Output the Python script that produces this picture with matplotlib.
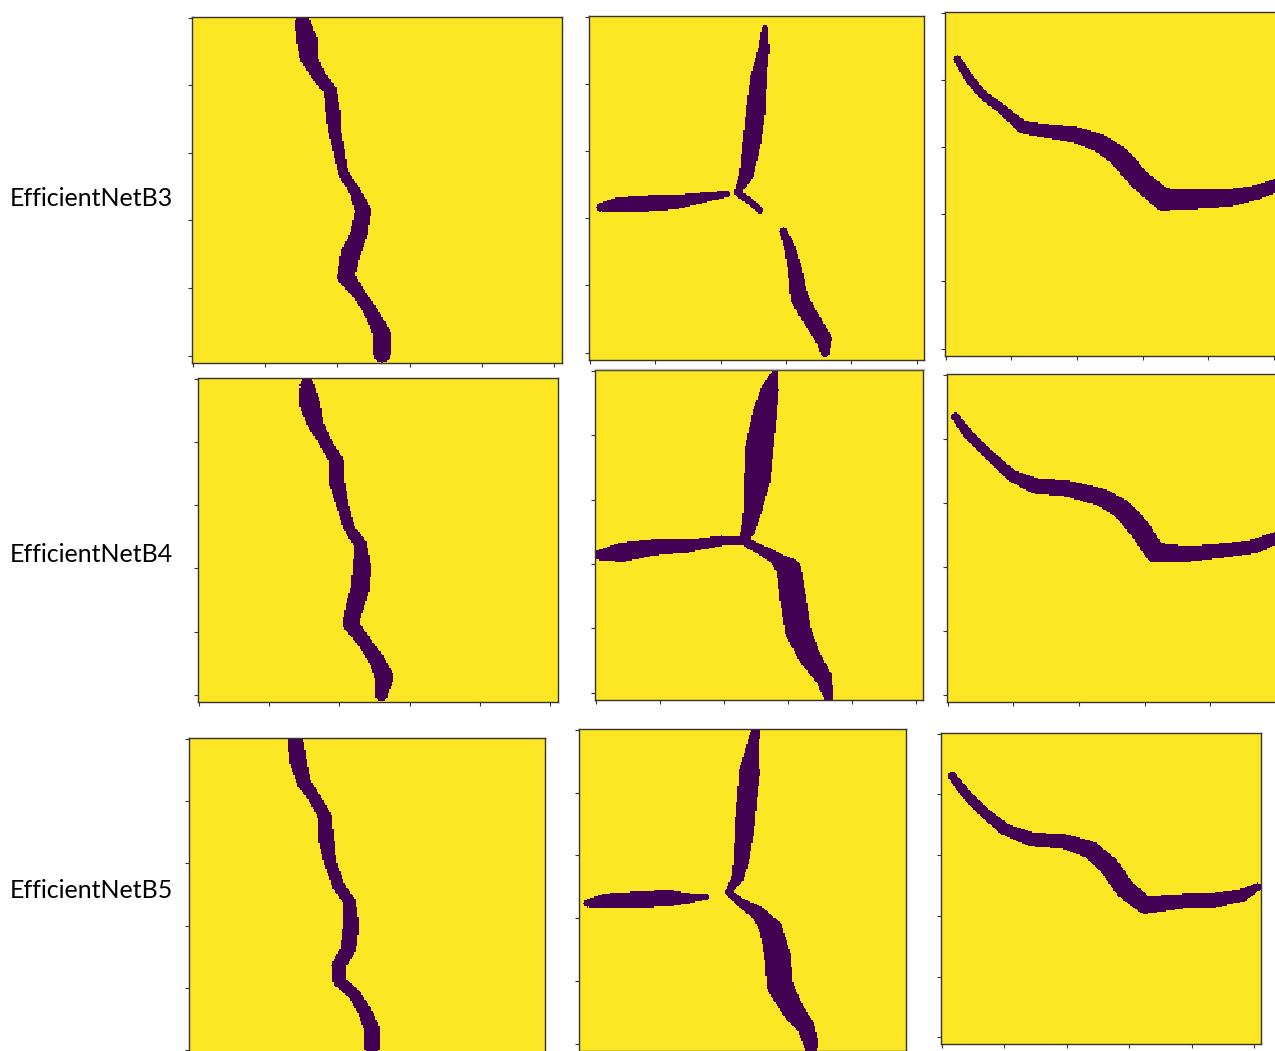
import numpy as np
import matplotlib
matplotlib.use("Agg")
import matplotlib.pyplot as plt
from matplotlib.lines import Line2D

# crack centre lines in mask pixels (256 x 256): x, y, width
models = ["EfficientNetB3", "EfficientNetB4", "EfficientNetB5"]

# ---- crack 1 (vertical) ----
b3_c1_x = [76, 79, 80, 86, 95, 97, 98, 101, 104, 112, 118, 115, 109, 106, 115, 124, 131, 131]
b3_c1_y = [4, 17, 29, 41, 54, 69, 83, 98, 115, 128, 143, 160, 175, 192, 204, 219, 234, 249]
b3_c1_w = [11, 15, 12, 10, 9, 10, 9, 8, 7, 8, 11, 12, 13.5, 12.5, 9, 10, 12.5, 12]

b4_c1_x = [77, 79, 83, 91, 98, 98, 102, 107, 115, 116, 115, 110, 108, 117, 127, 132, 130]
b4_c1_y = [5, 20, 36, 52, 65, 81, 99, 118, 131, 147, 165, 184, 194, 207, 223, 236, 250]
b4_c1_w = [10, 15, 11.5, 9, 10, 11.5, 9, 8, 9, 12.5, 13.5, 12.5, 11.5, 10, 11.5, 13.5, 9]

b5_c1_x = [76, 78, 82, 90, 97, 98, 101, 107, 115, 116, 114, 107, 108, 119, 126, 131, 131]
b5_c1_y = [1, 19, 35, 48, 62, 80, 99, 118, 131, 150, 169, 182, 195, 206, 219, 233, 249]
b5_c1_w = [11.5, 12.5, 10, 9, 10, 11.5, 9, 9, 9, 11.5, 11.5, 10, 10, 9, 10, 11.5, 10]

# ---- crack 2 (three branches) ----
b3_c2_up_x = [134, 133, 129, 127, 124, 120, 113]
b3_c2_up_y = [9, 25, 45, 70, 94, 117, 131]
b3_c2_up_w = [5, 8.5, 12.5, 15, 14, 11, 5.5]
b3_c2_spur_x = [113, 123, 130]
b3_c2_spur_y = [131, 138, 144]
b3_c2_spur_w = [5.5, 5.5, 5]
b3_c2_left_x = [105, 91, 66, 45, 22, 8]
b3_c2_left_y = [132, 134, 138, 139, 140, 142]
b3_c2_left_w = [5, 7, 11, 12, 11, 6]
b3_c2_low_x = [148, 153, 157, 160, 170, 179, 180]
b3_c2_low_y = [160, 172, 189, 209, 226, 240, 250]
b3_c2_low_w = [6, 8.5, 11, 13.5, 13, 12.5, 7]

b4_c2_up_x = [140, 136, 132, 128, 126, 123, 119, 115]
b4_c2_up_y = [1, 15, 33, 59, 85, 106, 124, 132]
b4_c2_up_w = [5, 14, 19, 22, 20.5, 15, 11, 7.5]
b4_c2_left_x = [115, 98, 72, 46, 20, 3]
b4_c2_left_y = [132, 132, 136, 137, 141, 143]
b4_c2_left_w = [7, 8, 10, 12.5, 15, 8]
b4_c2_low_x = [115, 127, 140, 151, 154, 158, 167, 178, 182]
b4_c2_low_y = [132, 138, 145, 155, 176, 202, 222, 238, 253]
b4_c2_low_w = [7, 7.5, 10, 19, 20.5, 20.5, 17, 13.5, 7.5]

b5_c2_up_x = [138, 135, 133, 131, 129, 127, 124, 118]
b5_c2_up_y = [1, 15, 34, 55, 79, 101, 117, 127]
b5_c2_up_w = [7.5, 10, 16.5, 15.5, 15.5, 12.5, 10, 5.5]
b5_c2_left_x = [6, 20, 47, 70, 86, 99]
b5_c2_left_y = [138, 136, 135, 134, 134, 133]
b5_c2_left_w = [6, 11.5, 13, 13, 8, 4.5]
b5_c2_low_x = [116, 127, 140, 150, 155, 157, 167, 177, 181, 181]
b5_c2_low_y = [129, 138, 146, 159, 180, 204, 223, 236, 250, 256]
b5_c2_low_w = [5.5, 7.5, 11.5, 18, 20.5, 20.5, 17, 14, 11.5, 9]

# ---- crack 3 (wavy horizontal) ----
b3_c3_x = [9, 18, 28, 43, 58, 76, 99, 117, 132, 147, 165, 191, 216, 236, 252, 262]
b3_c3_y = [35, 49, 61, 72, 85, 88, 91, 97, 107, 124, 139, 139, 138, 134, 128, 124]
b3_c3_w = [6, 7, 7, 7.5, 9.5, 10.5, 12, 14, 15.5, 16, 16.5, 14, 13, 11, 10, 10]

b4_c3_x = [6, 16, 32, 49, 67, 92, 118, 133, 146, 158, 183, 214, 234, 249, 262]
b4_c3_y = [33, 47, 63, 79, 87, 89, 96, 105, 120, 139, 140, 137, 134, 128, 125]
b4_c3_w = [6.5, 7.8, 8, 9.5, 12, 12.5, 14, 15.5, 16.5, 15.5, 12.5, 11, 11, 10, 10]

b5_c3_x = [8.5, 19, 32, 51, 72, 99, 120, 134, 147, 163, 193, 219, 241, 253]
b5_c3_y = [35, 49, 63, 79, 87, 89, 96, 109, 128, 141, 138, 137, 133, 126]
b5_c3_w = [6.9, 8.2, 8.5, 10, 11.5, 12, 14.5, 16, 16, 14.5, 12, 12, 10.5, 6]

cracks = {
    (0, 0): [(b3_c1_x, b3_c1_y, b3_c1_w)],
    (1, 0): [(b4_c1_x, b4_c1_y, b4_c1_w)],
    (2, 0): [(b5_c1_x, b5_c1_y, b5_c1_w)],
    (0, 1): [(b3_c2_up_x, b3_c2_up_y, b3_c2_up_w), (b3_c2_spur_x, b3_c2_spur_y, b3_c2_spur_w),
             (b3_c2_left_x, b3_c2_left_y, b3_c2_left_w), (b3_c2_low_x, b3_c2_low_y, b3_c2_low_w)],
    (1, 1): [(b4_c2_up_x, b4_c2_up_y, b4_c2_up_w), (b4_c2_left_x, b4_c2_left_y, b4_c2_left_w),
             (b4_c2_low_x, b4_c2_low_y, b4_c2_low_w)],
    (2, 1): [(b5_c2_up_x, b5_c2_up_y, b5_c2_up_w), (b5_c2_left_x, b5_c2_left_y, b5_c2_left_w),
             (b5_c2_low_x, b5_c2_low_y, b5_c2_low_w)],
    (0, 2): [(b3_c3_x, b3_c3_y, b3_c3_w)],
    (1, 2): [(b4_c3_x, b4_c3_y, b4_c3_w)],
    (2, 2): [(b5_c3_x, b5_c3_y, b5_c3_w)],
}

# panel boxes in screen pixels: left, top, right, bottom
boxes = {
    (0, 0): (192, 17, 562, 363), (0, 1): (589, 16, 924, 360), (0, 2): (945, 12, 1281, 356),
    (1, 0): (198, 378, 558, 702), (1, 1): (595, 370, 923, 700), (1, 2): (947, 374, 1283, 702),
    (2, 0): (189, 738, 545, 1057), (2, 1): (579, 729, 906, 1051), (2, 2): (941, 733, 1261, 1044),
}
label_y = [199, 554, 890]

N = 256
yy, xx = np.mgrid[0:N, 0:N] + 0.0


def make_mask(paths):
    mask = np.ones((N, N))
    for px, py, pw in paths:
        for i in range(len(px) - 1):
            x0, y0, x1, y1 = px[i], py[i], px[i + 1], py[i + 1]
            dx, dy = x1 - x0, y1 - y0
            L2 = dx * dx + dy * dy
            t = np.clip(((xx - x0) * dx + (yy - y0) * dy) / L2, 0, 1)
            d = np.hypot(xx - (x0 + t * dx), yy - (y0 + t * dy))
            half = (pw[i] + t * (pw[i + 1] - pw[i])) / 2
            mask[d <= half] = 0
    return mask


W, H = 1275, 1051
fig = plt.figure(figsize=(W / 100, H / 100), dpi=100)

for key, (l, t, r, b) in boxes.items():
    ax = fig.add_axes([l / W, 1 - b / H, (r - l) / W, (b - t) / H])
    ax.imshow(make_mask(cracks[key]), cmap="viridis", vmin=0, vmax=1,
              aspect="auto", interpolation="nearest")
    ax.set_xticks(np.arange(0, 256, 50))
    ax.set_yticks(np.arange(0, 256, 50))
    ax.set_xticklabels([])
    ax.set_yticklabels([])
    ax.tick_params(length=3, width=0.8, color="#333333")
    for s in ax.spines.values():
        s.set_color("#333333")
        s.set_linewidth(1.0)

for name, y in zip(models, label_y):
    fig.text(10 / W, 1 - y / H, name, family="Lato", fontsize=18,
             ha="left", va="center", color="black")

# thin grey rule under the top middle panel
fig.add_artist(Line2D([595 / W, 924 / W], [1 - 369 / H, 1 - 369 / H],
                      color="#bbbbbb", lw=1))

fig.savefig("out.png", dpi=100)
